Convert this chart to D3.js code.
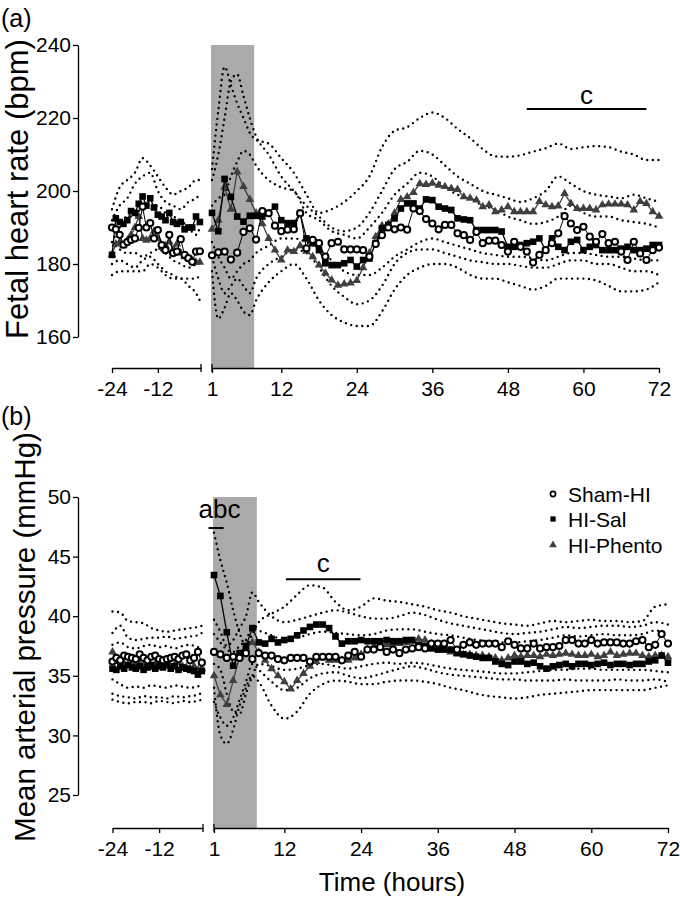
<!DOCTYPE html>
<html><head><meta charset="utf-8">
<script src="https://cdn.jsdelivr.net/npm/d3@7"></script>
<style>
body{margin:0;background:#fff}
text{font-family:"Liberation Sans",Arial,Helvetica,sans-serif;fill:#000}
</style>
</head><body>
<svg id="chart" width="680" height="900"></svg>
<script>
// ---------- time points ----------
const preT = [-24,-23,-22,-21,-20,-19,-18,-17,-16,-15,-14,-13,-12,-11,-10,-9,-8,-7,-6,-5,-4,-3,-2,-1];
const postT = [1,2,3,4,5,6,7,8,9,10,11,12,13,14,15,16,17,18,19,20,21,22,23,24,25,26,27,28,29,30,31,32,33,34,35,36,
  37,38,39,40,41,42,43,44,45,46,47,48,49,50,51,52,53,54,55,56,57,58,59,60,61,62,63,64,65,66,67,68,69,70,71,72];
const dotPreT = [-24,-22,-20,-18,-16,-14,-12,-10,-8,-6,-4,-2,-1];
const dotPostT = [1,2,3,4,5,6,7,8,10,12,14,16,18,20,22,24,26,28,30,32,34,36,38,40,42,44,46,48,50,52,54,56,58,60,62,64,66,68,70,72];

// ---------- tick labels ----------
const xTicksPre = [-24,-12];
const xTicksPost = [1,12,24,36,48,60,72];
const hrTicks = [160,180,200,220,240];
const mapTicks = [25,30,35,40,45,50];
const seriesNames = ["Sham-HI","HI-Sal","HI-Phento"];

// ---------- (a) Fetal heart rate means ----------
const hrShamPre = [190,189.5,188,185.3,186,186.6,187,189.9,195.7,190,191.2,187,189.3,185.2,183.8,188,183,183.4,186.8,182.5,181.6,180.6,183.4,183.5];
const hrSalPre  = [182.5,192.5,191.5,191,192,194.5,194,196.5,198.5,196,198,195.5,193.5,193,192,194,191.5,191,191.5,189.5,190,190,193,191.5];
const hrPhenPre = [182.5,185.5,186,185,186.5,188,190,193,187,186.5,187,189,187,184.5,185,186,184,185.5,183,182,181.5,181,180.5,180.5];

const hrShamPost = [182.4,183.2,183.4,181.2,183.1,188.8,189.8,186.7,194.5,193.9,
 190.5,189,189.4,189.5,193.9,184.3,186.6,185.7,182,185.7,
 186.1,184,184,184,183.8,182,185.5,187.9,190,189.5,
 190,189.4,195.2,194.5,192.3,191.1,189.5,190.7,190.7,188.4,
 187.9,186.6,188.8,185.7,186.4,186.4,185.2,183.4,186.1,184.7,
 183.4,180.4,182.5,183.8,185.7,188.4,193.1,191.1,189.3,190.2,
 187.5,186.1,188.2,185.7,186.1,183.4,181.1,186.1,182.9,181.1,
 183.8,184.5];
const hrSalPost = [194,189,203.3,198.4,193,191.6,193.2,193.2,193,194,
 195.7,192,191.2,191.2,194,187,185.7,183.8,180.2,179.7,
 179.7,180.2,181.1,179.3,181.1,181.5,185.7,189.8,190.7,192.5,
 195.2,196.6,196.6,195.2,197.7,197.5,195.7,195.2,194.8,192.5,
 192.2,192,189.3,189.3,189.3,189.3,188.9,184.7,184.7,185.2,
 185.7,186.1,187,183.8,187,184.7,183.8,186.1,186.6,183.8,
 184.7,185.2,183.8,183.8,183.8,184.2,184.7,183.8,183.8,184.2,
 185.2,185.2];
const hrPhenPost = [189.5,192,201,195,205.3,201.2,197.7,194,191,187,
 183.8,181.1,183.8,183.4,185,183.5,182,179.7,177.5,175.6,
 174.2,174.5,174.8,175.5,179,183,187.5,190.5,191,194,
 197.7,198.4,199.6,202,201.8,202.1,201.6,201.2,200.7,200.4,
 198.4,198,197.5,195.7,196.2,194.3,194.8,195.7,194.3,194.3,
 194.3,194.3,197.1,196.2,195.7,195.9,199.3,196.6,195.2,195.2,
 195.2,194.8,196.2,196.4,196.4,196.4,196.2,194.8,197.1,196.6,
 194.3,193.1];

// (a) dotted SD lines
const hrDotPre = [
 [195,201,203,205,209,207,204,201,199,200,201,203,203],
 [192,196,198,202,204,205,200,197,196,195,197,198,199],
 [186,190,193,193,196,195,196,194,193,192,190,188,190],
 [186,184,183,183,182,183,184,183,181,180,179,180,181],
 [180,181,180,179,181,182,180,178,177,176,176,176,177],
 [177,178,178,178,178,180,179,177,176,176,174,172,170]
];
const hrDotPost = [
 [206,222,234,229,224,220,216,214, 213,209,205,199,194,195,197,200,204,212,216.5,217.5,220,221.5,220,217,214.5,211.5,209.5,209.4,209.8,210.8,211.7,213,211.5,212,212.3,212,210.8,210,208.5,208.5],
 [203,210,220,230,232,226,220,215, 210,204,200,196,193,190,189,190,194,200,206,208,211,210,207,204,202,200,199,198,197,198,200,204,202,200,199,198.5,198,199,198,197],
 [196,198,199,204,208,211,210,207, 203,201,200,194,192,189,188,187,190,194,199,202,205,204,201,199,198,196,195,193,192,191,191.5,193,196,194,193,193,192,191.5,191,190],
 [178,165,168,172,170,167,166,170, 175,178,180,176,170,166,164,163,163,167,173,177,179,180,180,179,177,176,176,175,174,173,174,176,176,176,175.5,174,172.5,172.5,173,175],
 [182,176,172,174,176,174,172,176, 180,182,184,183,179,174,171,169,170,174,180,183,184,184,183,182,181,180.5,180,180,179.5,179,179,180,181,181,180,180,179,178,178,177],
 [186,182,179,176,178,180,181,183, 185,187,187,186,184,181,178,177,177,179,182,184,186,187,186,185,184,183,182.5,182,182,181.5,181,182,183,183,182.5,182,182,181.5,181,181]
];

// ---------- (b) Mean arterial pressure means ----------
const mapShamPre = [36.2,36.5,36.3,36.7,36.6,36.5,36.4,36.8,36.5,36.3,36.6,36.7,36.4,36.3,36.4,36.5,36.6,36.4,36.7,36.8,36.3,36.5,37.0,36.1];
const mapSalPre  = [35.6,35.5,35.8,35.6,35.9,35.7,35.6,35.8,35.5,35.7,35.9,35.6,35.8,35.7,35.9,35.6,35.8,35.5,35.7,35.6,35.5,35.4,35.1,35.4];
const mapPhenPre = [37.0,36.2,35.8,36.0,35.9,36.1,35.8,36.0,35.9,36.1,35.7,36.0,35.8,35.9,36.0,35.8,35.9,36.1,35.8,35.7,35.6,35.8,35.5,35.6];

const mapShamPost = [37.0,36.8,36.5,36.6,36.5,36.9,36.4,36.9,36.7,36.7,
 36.4,36.3,36.5,36.5,36.5,36.2,36.6,36.6,36.6,36.6,
 36.3,36.7,37.0,36.6,37.2,37.2,37.4,37.0,37.2,36.9,
 37.2,37.3,37.4,37.3,37.7,37.7,37.7,38.0,37.2,37.6,
 37.8,37.6,37.7,37.7,37.7,37.4,37.9,37.6,37.3,37.3,
 37.7,37.3,37.4,37.4,37.5,38.0,38.0,37.7,37.7,38.0,
 37.7,37.8,37.8,37.8,37.7,37.7,37.9,38.0,37.4,37.6,
 38.5,37.7];
const mapSalPost = [43.45,41.7,38.65,35.85,36.9,37.5,39.0,37.8,37.7,38.1,
 37.8,38.0,38.1,38.4,38.8,39.1,39.3,39.3,39.0,38.3,
 37.7,37.9,37.9,38.0,37.9,37.9,37.9,38.0,37.9,37.9,
 38.0,38.0,37.6,37.5,37.3,37.2,37.2,37.2,36.9,36.8,
 36.7,36.6,36.5,36.5,36.2,36.0,35.9,36.2,36.2,36.0,
 36.1,35.8,35.6,35.8,35.9,36.0,35.8,36.0,36.0,35.9,
 36.0,36.1,35.9,36.0,36.0,35.9,36.0,36.0,36.2,36.3,
 36.7,36.1];
const mapPhenPost = [35.0,33.4,32.6,34.6,36.6,37.3,37.8,37.0,36.3,35.6,
 35.0,34.5,33.9,34.6,35.2,35.8,36.2,36.5,36.3,36.3,
 36.3,36.3,36.5,36.8,37.2,37.5,37.5,37.6,37.7,37.7,
 37.8,37.9,38.1,38.0,37.7,37.4,37.2,37.0,36.9,36.8,
 36.8,36.7,36.7,36.6,36.5,36.3,36.5,36.7,36.6,36.7,
 36.7,36.6,36.8,36.7,36.8,36.9,36.8,36.7,36.7,36.8,
 36.6,36.7,37.0,36.7,36.8,36.9,36.9,36.7,36.6,36.7,
 36.7,36.6];

// (b) dotted SD lines
const mapDotPre = [
 [40.4,40.3,39.6,39.5,39.4,39.0,38.8,38.7,38.8,38.9,39.0,39.1,39.2],
 [38.6,39.2,38.2,38.0,38.1,38.2,38.2,38.3,38.1,38.2,38.3,38.4,38.6],
 [37.6,37.8,37.4,37.3,37.5,37.6,37.4,37.5,37.3,37.5,37.6,37.4,37.7],
 [34.7,34.3,34.0,34.1,34.0,34.2,34.1,34.0,34.2,34.1,34.0,34.1,34.4],
 [33.5,33.3,33.2,33.1,33.3,33.2,33.2,33.1,33.3,33.2,33.3,33.4,33.6],
 [33.0,32.8,32.7,32.8,32.8,32.7,32.9,32.8,32.7,32.9,32.8,32.9,33.0]
];
const mapDotPost = [
 [47.0,44.7,42.8,40.5,38.6,37.5,38.5,39.5, 40.2,40.8,41.8,42.6,42.4,41.2,40.5,40.8,41.5,41.3,41.2,41.0,40.8,40.5,40.3,40.0,39.8,39.6,39.4,39.3,39.2,39.4,39.6,39.5,39.6,39.7,39.6,39.6,39.5,39.6,40.8,41.0],
 [39.7,38.7,37.5,38.0,39.0,40.0,42.0,41.2, 40.0,39.5,39.7,40.0,40.3,40.5,40.3,40.0,39.8,39.8,40.0,40.3,40.1,39.7,39.4,39.2,39.0,38.8,38.6,38.5,38.6,38.7,38.9,39.1,39.0,39.1,39.2,39.2,39.1,39.2,39.5,39.3],
 [38.5,37.8,37.2,37.0,37.5,38.0,39.0,38.8, 38.4,38.0,38.2,38.5,38.7,38.6,38.5,38.4,38.5,38.8,38.9,38.9,38.7,38.5,38.4,38.2,38.0,37.9,37.8,37.8,37.9,38.0,38.2,38.4,38.3,38.4,38.5,38.4,38.4,38.5,38.8,38.6],
 [34.0,30.0,29.3,30.5,32.5,34.0,35.0,34.5, 32.5,31.4,32.0,33.5,34.3,34.6,34.5,34.3,34.3,34.5,34.6,34.6,34.5,34.3,34.0,33.8,33.5,33.3,33.2,33.1,33.2,33.4,33.5,33.6,33.7,33.8,33.8,33.8,33.8,33.8,34.0,34.2],
 [32.8,31.5,30.8,31.5,33.0,34.5,36.0,35.5, 34.5,33.8,34.0,34.8,35.2,35.3,35.0,34.8,35.0,35.3,35.6,35.8,35.6,35.3,35.1,35.0,34.9,34.8,34.7,34.7,34.6,34.6,34.6,34.7,34.6,34.6,34.6,34.7,34.6,34.6,34.7,34.5],
 [36.0,35.5,33.5,32.0,31.8,33.5,35.0,36.0, 35.8,35.5,35.6,35.9,36.0,35.8,35.6,35.8,36.0,36.1,36.0,36.1,36.0,35.8,35.6,35.5,35.4,35.3,35.2,35.2,35.3,35.4,35.5,35.5,35.6,35.6,35.5,35.5,35.5,35.5,35.4,35.3]
];

// ---------- drawing ----------
const svg = d3.select("#chart");
const FONT = "'Liberation Sans',Arial,Helvetica,sans-serif";
const PHEN = "#3f3f3f";
const zip = (ts, vs) => vs.map((v, i) => [ts[i], v]).filter(p => p[0] !== undefined);

function drawPanel(cfg) {
  const g = svg.append("g");
  const xL = d3.scaleLinear().domain([-24, -0.7]).range(cfg.xLRange);
  const xR = d3.scaleLinear().domain([1, 72]).range(cfg.xRRange);
  const y = d3.scaleLinear().domain(cfg.yDomain).range(cfg.yRange);
  const top = y(cfg.yDomain[1]);

  // shaded H-I period
  g.append("rect")
    .attr("x", xR(0.85)).attr("width", xR(7.7) - xR(0.85))
    .attr("y", top).attr("height", cfg.axisY - top)
    .attr("fill", "#aaaaaa");

  // dotted SD lines
  const dl = (xs) => d3.line().x(d => xs(d[0])).y(d => y(d[1])).curve(d3.curveMonotoneX);
  const dotted = (sel) => sel.attr("fill", "none").attr("stroke", "#000")
      .attr("stroke-width", 2.4).attr("stroke-linecap", "round").attr("stroke-dasharray", "0 5.6");
  cfg.dotPre.forEach(arr => g.append("path").attr("d", dl(xL)(zip(dotPreT, arr))).call(dotted));
  cfg.dotPost.forEach(arr => g.append("path").attr("d", dl(xR)(zip(dotPostT, arr))).call(dotted));

  // mean series
  const ml = (xs) => d3.line().x(d => xs(d[0])).y(d => y(d[1]));
  const triangle = d3.symbol().type(d3.symbolTriangle).size(32)();
  const square = d3.symbol().type(d3.symbolSquare).size(44)();

  function series(pre, post, color, width, marker) {
    [[xL, zip(preT, pre)], [xR, zip(postT, post)]].forEach(([xs, pts]) => {
      g.append("path").attr("d", ml(xs)(pts)).attr("fill", "none")
        .attr("stroke", color).attr("stroke-width", width);
      const mg = g.append("g");
      pts.forEach(p => marker(mg, xs(p[0]), y(p[1])));
    });
  }
  series(cfg.phen[0], cfg.phen[1], PHEN, 1.3, (mg, x, yy) =>
    mg.append("path").attr("d", triangle).attr("transform", `translate(${x},${yy})`).attr("fill", PHEN));
  series(cfg.sal[0], cfg.sal[1], "#000", 1.3, (mg, x, yy) =>
    mg.append("path").attr("d", square).attr("transform", `translate(${x},${yy})`).attr("fill", "#000"));
  series(cfg.sham[0], cfg.sham[1], "#000", 1, (mg, x, yy) =>
    mg.append("circle").attr("cx", x).attr("cy", yy).attr("r", 3.1)
      .attr("fill", "#fff").attr("stroke", "#000").attr("stroke-width", 2));

  // y axis
  const ya = g.append("g").attr("transform", `translate(${cfg.yAxisX},0)`)
    .call(d3.axisLeft(y).tickValues(cfg.yTicks).tickFormat(d => String(d))
      .tickSize(5).tickSizeOuter(0).tickPadding(2));
  ya.selectAll("text").attr("font-size", 21).attr("font-family", FONT);
  ya.selectAll("path,line").attr("stroke", "#000").attr("stroke-width", 1.3);

  // x axes (broken)
  [[xL, xTicksPre], [xR, xTicksPost]].forEach(([xs, tv]) => {
    const xa = g.append("g").attr("transform", `translate(0,${cfg.axisY})`)
      .call(d3.axisBottom(xs).tickValues(tv).tickFormat(d => String(d))
        .tickSize(5).tickSizeOuter(0).tickPadding(8));
    xa.selectAll("text").attr("font-size", 21).attr("font-family", FONT);
    xa.selectAll("path,line").attr("stroke", "#000").attr("stroke-width", 1.3);
  });
  // break end marks
  [xL.range()[1], xR.range()[0]].forEach(x =>
    g.append("line").attr("x1", x).attr("x2", x)
      .attr("y1", cfg.axisY - 4).attr("y2", cfg.axisY + 4)
      .attr("stroke", "#000").attr("stroke-width", 1.3));

  // y label
  g.append("text").attr("transform", `translate(${cfg.yLabelX},${cfg.yLabelY}) rotate(-90)`)
    .attr("text-anchor", "middle").attr("font-size", cfg.yLabelSize).text(cfg.yLabel);
  // panel letter
  g.append("text").attr("x", 1).attr("y", cfg.letterY).attr("font-size", 25).text(cfg.letter);

  return {xL, xR, y, g};
}

// Panel (a)
const A = drawPanel({
  xLRange: [112, 201], xRRange: [212, 659],
  yDomain: [160, 240], yRange: [337, 45], yTicks: hrTicks, yAxisX: 78, axisY: 368,
  dotPre: hrDotPre, dotPost: hrDotPost,
  sham: [hrShamPre, hrShamPost], sal: [hrSalPre, hrSalPost], phen: [hrPhenPre, hrPhenPost],
  yLabel: "Fetal heart rate (bpm)", yLabelX: 28, yLabelY: 189, yLabelSize: 31,
  letter: "(a)", letterY: 27
});
A.g.append("line").attr("x1", A.xR(51)).attr("x2", A.xR(70)).attr("y1", A.y(222.5)).attr("y2", A.y(222.5))
  .attr("stroke", "#000").attr("stroke-width", 2);
A.g.append("text").attr("x", (A.xR(51) + A.xR(70)) / 2).attr("y", A.y(223.9))
  .attr("text-anchor", "middle").attr("font-size", 26).text("c");

// Panel (b)
const B = drawPanel({
  xLRange: [112.5, 203], xRRange: [214, 668],
  yDomain: [25, 50], yRange: [795, 497], yTicks: mapTicks, yAxisX: 78, axisY: 828,
  dotPre: mapDotPre, dotPost: mapDotPost,
  sham: [mapShamPre, mapShamPost], sal: [mapSalPre, mapSalPost], phen: [mapPhenPre, mapPhenPost],
  yLabel: "Mean arterial pressure (mmHg)", yLabelX: 35, yLabelY: 637, yLabelSize: 29.5,
  letter: "(b)", letterY: 425
});
// annotations (b)
B.g.append("line").attr("x1", B.xR(0.15)).attr("x2", B.xR(2.5)).attr("y1", B.y(47.4)).attr("y2", B.y(47.4))
  .attr("stroke", "#000").attr("stroke-width", 2);
B.g.append("text").attr("x", 219.5).attr("y", B.y(48.25)).attr("text-anchor", "middle")
  .attr("font-size", 26).text("abc");
B.g.append("line").attr("x1", B.xR(12.25)).attr("x2", B.xR(23.9)).attr("y1", B.y(43.1)).attr("y2", B.y(43.1))
  .attr("stroke", "#000").attr("stroke-width", 2);
B.g.append("text").attr("x", (B.xR(12.25) + B.xR(23.9)) / 2).attr("y", B.y(43.7)).attr("text-anchor", "middle")
  .attr("font-size", 26).text("c");

// x title
svg.append("text").attr("x", 392).attr("y", 891).attr("text-anchor", "middle")
  .attr("font-size", 26).text("Time (hours)");

// legend
const lg = svg.append("g").attr("transform", "translate(553,0)");
const legY = [502, 527, 553];
seriesNames.forEach((name, i) => {
  const cy = legY[i] - 8;
  if (i === 0) lg.append("circle").attr("cx", 0).attr("cy", cy).attr("r", 2.6).attr("fill", "#fff").attr("stroke", "#000").attr("stroke-width", 1.7);
  if (i === 1) lg.append("path").attr("d", d3.symbol().type(d3.symbolSquare).size(28)()).attr("transform", `translate(0,${cy})`).attr("fill", "#000");
  if (i === 2) lg.append("path").attr("d", d3.symbol().type(d3.symbolTriangle).size(26)()).attr("transform", `translate(0,${cy})`).attr("fill", PHEN);
  lg.append("text").attr("x", 15).attr("y", legY[i]).attr("font-size", 21).text(name);
});
</script>
</body></html>
